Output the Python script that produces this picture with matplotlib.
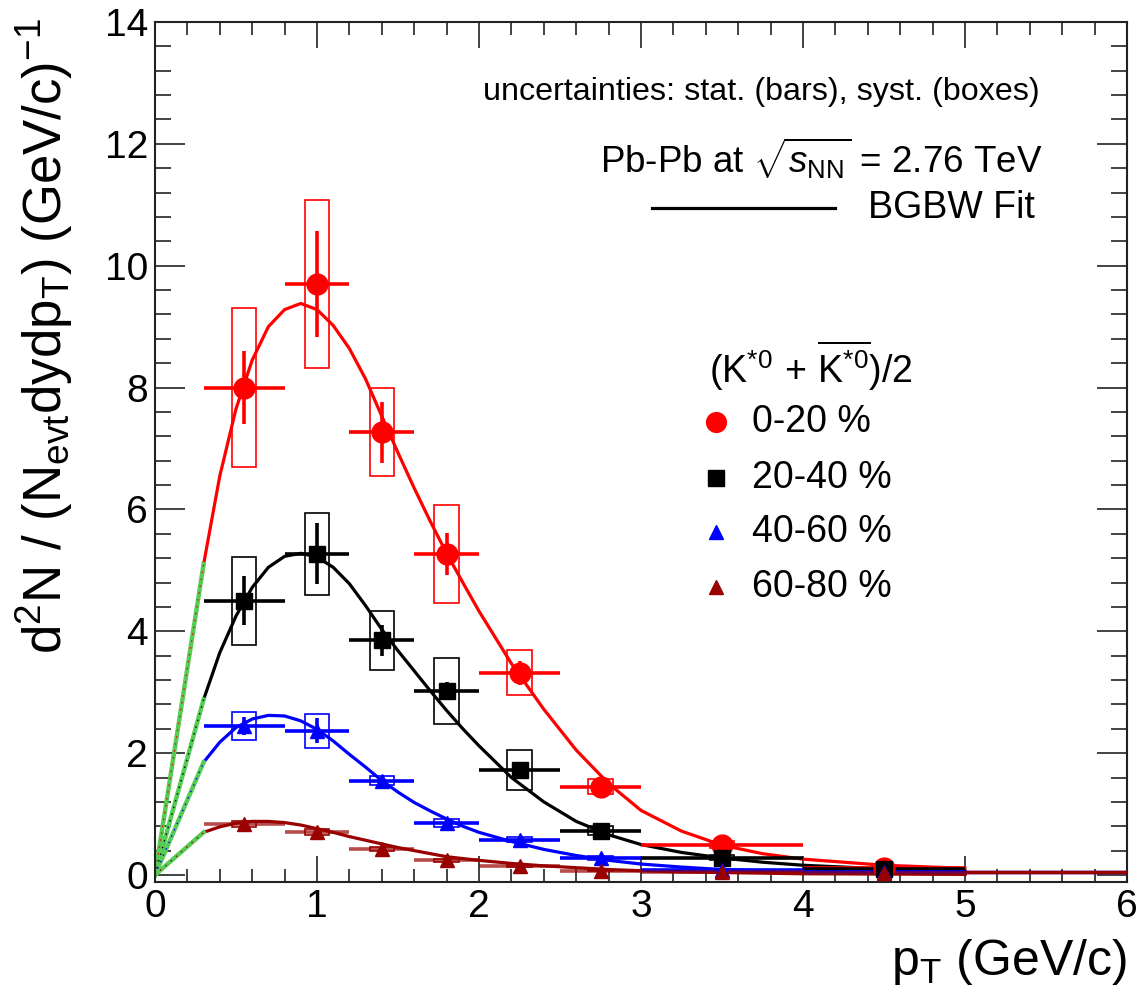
import numpy as np
import matplotlib
matplotlib.use("Agg")
import matplotlib.pyplot as plt
from matplotlib.patches import Rectangle
from matplotlib.lines import Line2D

plt.rcParams['font.family'] = ['Liberation Sans', 'DejaVu Sans']
plt.rcParams['mathtext.fontset'] = 'custom'
plt.rcParams['mathtext.rm'] = 'Liberation Sans'
plt.rcParams['mathtext.it'] = 'Liberation Sans:italic'
plt.rcParams['mathtext.bf'] = 'Liberation Sans:bold'

# pT bins (GeV/c)
pt = [0.55, 1.0, 1.4, 1.8, 2.25, 2.75, 3.5, 4.5]
pt_halfwidth = [0.25, 0.2, 0.2, 0.2, 0.25, 0.25, 0.5, 0.5]

# yields per centrality class: value, stat, syst
y_0020 = [8.0, 9.7, 7.27, 5.27, 3.32, 1.45, 0.5, 0.12]
stat_0020 = [0.6, 0.87, 0.5, 0.35, 0.2, 0.08, 0.03, 0.02]
syst_0020 = [1.3, 1.38, 0.72, 0.8, 0.37, 0.12, 0.05, 0.02]

y_2040 = [4.5, 5.27, 3.85, 3.02, 1.72, 0.73, 0.28, 0.1]
stat_2040 = [0.4, 0.5, 0.25, 0.15, 0.1, 0.04, 0.02, 0.01]
syst_2040 = [0.72, 0.67, 0.49, 0.54, 0.33, 0.08, 0.04, 0.02]

y_4060 = [2.45, 2.37, 1.55, 0.85, 0.58, 0.28, 0.08, 0.05]
stat_4060 = [0.15, 0.2, 0.05, 0.05, 0.03, 0.02, 0.01, 0.01]
syst_4060 = [0.23, 0.28, 0.08, 0.07, 0.04, 0.03, 0.01, 0.01]

y_6080 = [0.83, 0.71, 0.43, 0.24, 0.15, 0.07, 0.05, 0.03]
stat_6080 = [0.05, 0.04, 0.03, 0.02, 0.01, 0.01, 0.005, 0.005]
syst_6080 = [0.05, 0.05, 0.03, 0.02, 0.015, 0.01, 0.005, 0.005]

# last wide bin (5-6 GeV/c) for peripheral classes
tail_pt = 5.5
tail_halfwidth = 0.5
tail_4060 = 0.055
tail_6080 = 0.045

# BGBW fit curves
fit_pt = [0.3, 0.4, 0.5, 0.6, 0.7, 0.8, 0.9, 1.0, 1.1, 1.2, 1.3, 1.4, 1.5, 1.6, 1.7,
          1.8, 1.9, 2.0, 2.2, 2.4, 2.6, 2.8, 3.0, 3.25, 3.5, 3.75, 4.0, 4.5, 5.0]
fit_0020 = [5.1, 6.55, 7.65, 8.45, 9.0, 9.28, 9.38, 9.28, 9.02, 8.64, 8.14, 7.53, 6.93, 6.35, 5.8,
            5.28, 4.8, 4.33, 3.47, 2.72, 2.05, 1.5, 1.06, 0.72, 0.49, 0.35, 0.26, 0.16, 0.11]
fit_2040 = [2.88, 3.65, 4.25, 4.72, 5.05, 5.23, 5.28, 5.22, 5.05, 4.78, 4.42, 4.03, 3.68, 3.35, 3.02,
            2.7, 2.4, 2.12, 1.6, 1.2, 0.88, 0.66, 0.5, 0.37, 0.28, 0.21, 0.16, 0.1, 0.06]
fit_4060 = [1.85, 2.18, 2.42, 2.56, 2.62, 2.61, 2.53, 2.39, 2.2, 1.98, 1.77, 1.55, 1.36, 1.19, 1.05,
            0.92, 0.8, 0.7, 0.55, 0.42, 0.32, 0.24, 0.18, 0.13, 0.09, 0.07, 0.05, 0.03, 0.02]
fit_6080 = [0.7, 0.79, 0.85, 0.88, 0.88, 0.86, 0.82, 0.76, 0.7, 0.63, 0.57, 0.51, 0.45, 0.4, 0.35,
            0.3, 0.27, 0.24, 0.19, 0.15, 0.12, 0.09, 0.07, 0.05, 0.04, 0.03, 0.02, 0.015, 0.01]

labels = ['0-20 %', '20-40 %', '40-60 %', '60-80 %']
colors = ['#ff0000', '#000000', '#0000ff', '#990000']
markers = ['o', 's', '^', '^']
msizes = [15, 12, 10, 10]
green = '#55cc55'

W, H = 1139, 1008
fig = plt.figure(figsize=(W / 100, H / 100), dpi=100)
ax = fig.add_axes([155 / W, 1 - 882 / H, (1127 - 155) / W, (882 - 22) / H])

series = [
    (y_0020, stat_0020, syst_0020, fit_0020),
    (y_2040, stat_2040, syst_2040, fit_2040),
    (y_4060, stat_4060, syst_4060, fit_4060),
    (y_6080, stat_6080, syst_6080, fit_6080),
]

# fit curves first (under the data)
for (yv, st, sy, fit), col in zip(series, colors):
    ax.plot(fit_pt, fit, color=col, lw=2.3, zorder=2, solid_joinstyle='round')
    # extrapolation below fit range
    ax.plot([0, fit_pt[0]], [0, fit[0]], color=green, lw=3.2, zorder=2)
    ax.plot([0, fit_pt[0]], [0, fit[0]], color=col, lw=1.0, ls=(0, (1, 4)), zorder=3)

# tail bins for peripheral classes
ax.errorbar([tail_pt], [tail_4060], xerr=[tail_halfwidth], fmt='none', ecolor=colors[2], elinewidth=2.5, zorder=4)
ax.errorbar([tail_pt], [tail_6080], xerr=[tail_halfwidth], fmt='none', ecolor=colors[3], elinewidth=2.5, zorder=4)

for (yv, st, sy, fit), col, mk, ms in zip(series, colors, markers, msizes):
    ealpha = 0.7 if col == '#990000' else 1.0
    for x, y, s in zip(pt, yv, sy):
        ax.add_patch(Rectangle((x - 0.075, y - s), 0.15, 2 * s, fill=False,
                               ec=col, lw=1.2, zorder=4))
    ax.errorbar(pt, yv, xerr=pt_halfwidth, yerr=st, fmt='none', ecolor=col,
                elinewidth=2.6, capsize=0, zorder=5, alpha=ealpha)
    ax.plot(pt, yv, ls='none', marker=mk, ms=ms, color=col, mec=col, zorder=6)

ax.set_xlim(0, 6)
ax.set_ylim(-0.115, 14)
ax.set_xticks(np.arange(0, 7, 1))
ax.set_xticks(np.arange(0, 6.01, 0.2), minor=True)
ax.set_yticks(np.arange(0, 15, 2))
ax.set_yticks(np.arange(0, 14.01, 0.4), minor=True)
ax.tick_params(axis='both', which='both', direction='in', top=True, right=True,
               labelsize=28, width=1.2, color='#222222')
ax.tick_params(axis='x', which='major', length=19, pad=5)
ax.tick_params(axis='x', which='minor', length=9.5)
ax.tick_params(axis='y', which='major', length=21.5, pad=5)
ax.tick_params(axis='y', which='minor', length=11.5)
for sp in ax.spines.values():
    sp.set_linewidth(1.5)
    sp.set_color('#222222')

fig.text(1127 / W, 1 - 975 / H, r'p$_{\mathrm{T}}$ (GeV/c)', fontsize=36,
         ha='right', va='baseline')
fig.text(44 / W, 1 - 18 / H, r'd$^{2}$N / (N$_{\mathrm{evt}}$dydp$_{\mathrm{T}}$) (GeV/c)$^{-1}$',
         fontsize=38, rotation=90, ha='center', va='top')

# annotations
fig.text(1040 / W, 1 - 92 / H, 'uncertainties: stat. (bars), syst. (boxes)',
         fontsize=23.2, ha='right', va='center')
fig.text(1042 / W, 1 - 158 / H, r'Pb-Pb at $\sqrt{s_{\mathrm{NN}}}$ = 2.76 TeV',
         fontsize=26.5, ha='right', va='center')
fig.add_artist(Line2D([652 / W, 835 / W], [1 - 208 / H, 1 - 208 / H], color='black', lw=2.3))
fig.text(868 / W, 1 - 208 / H, 'BGBW Fit', fontsize=27, ha='left', va='center')

# legend
fig.text(709 / W, 1 - 366 / H, r'$(\mathrm{K}^{*0}\,+\,\overline{\mathrm{K}^{*0}})/2$',
         fontsize=27, ha='left', va='center')
leg_y = [422, 478, 532, 587]
for ly, lab, col, mk, ms in zip(leg_y, labels, colors, markers, msizes):
    fig.add_artist(Line2D([716 / W], [1 - ly / H], ls='none', marker=mk, ms=ms * 0.95,
                          color=col, mec=col))
    fig.text(752 / W, 1 - ly / H, lab, fontsize=27, ha='left', va='center')

fig.savefig('out.png', dpi=100)
